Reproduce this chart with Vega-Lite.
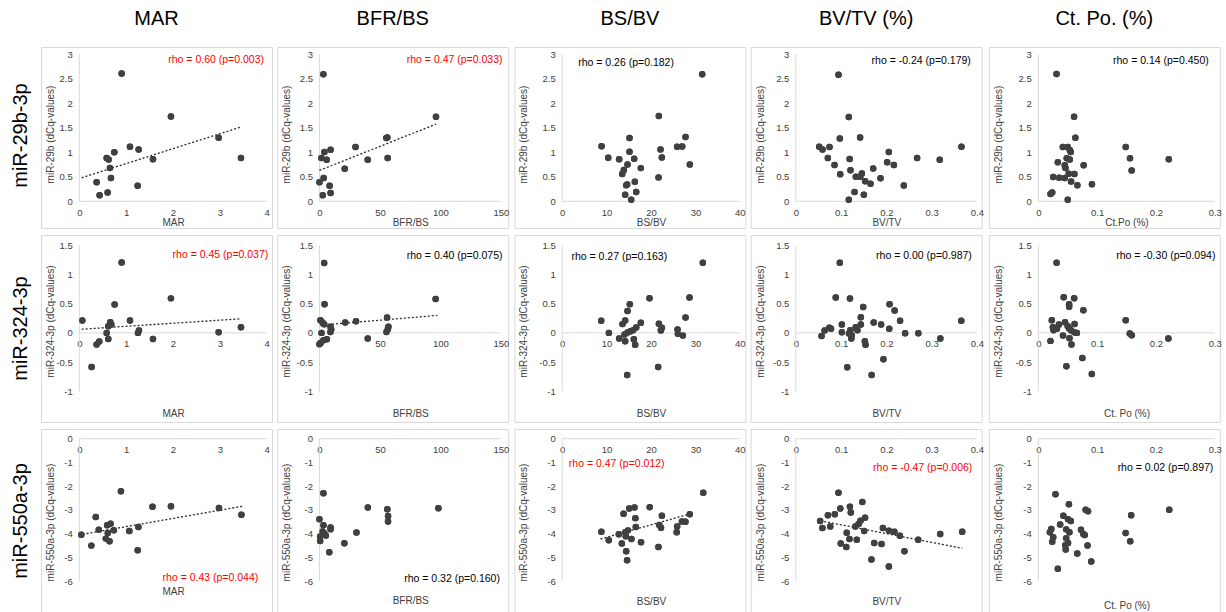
{
"$schema": "https://vega.github.io/schema/vega-lite/v6.json",
"background": "white",
"padding": {"left": 10, "top": 8, "right": 0, "bottom": 0},
"spacing": 5,
"config": {
  "font": "Liberation Sans",
  "view": {"stroke": "#d9d9d9", "strokeWidth": 1},
  "axis": {"domain": false, "ticks": false, "grid": false, "tickCount": 20, "labelFontSize": 9.5, "labelColor": "#404040", "titleFontSize": 10, "titleFontWeight": "normal", "titleColor": "#404040", "labelFlush": false, "labelOverlap": false, "titleAlign": "center", "titleBaseline": "middle"},
  "axisX": {"labelPadding": 6},
  "axisY": {"labelPadding": 7},
  "title": {"fontWeight": "normal", "color": "#000000", "fontSize": 20}
},
"datasets": {
  "p1": [{"x":0.904,"y":2.608},{"x":1.957,"y":1.73},{"x":2.975,"y":1.297},{"x":3.452,"y":0.885},{"x":1.082,"y":1.112},{"x":1.267,"y":1.057},{"x":0.747,"y":1.002},{"x":0.584,"y":0.885},{"x":0.626,"y":0.851},{"x":1.573,"y":0.858},{"x":0.655,"y":0.68},{"x":0.676,"y":0.474},{"x":0.37,"y":0.391},{"x":0.434,"y":0.124},{"x":0.605,"y":0.178},{"x":1.246,"y":0.316}],
  "p2": [{"x":3.25,"y":2.593},{"x":96.3,"y":1.724},{"x":55.3,"y":1.29},{"x":56.1,"y":1.303},{"x":29.8,"y":1.107},{"x":9.2,"y":1.052},{"x":4.1,"y":1.005},{"x":1.6,"y":0.883},{"x":6.0,"y":0.849},{"x":39.9,"y":0.849},{"x":56.4,"y":0.883},{"x":20.9,"y":0.665},{"x":3.5,"y":0.475},{"x":0,"y":0.387},{"x":8.4,"y":0.319},{"x":2.7,"y":0.122},{"x":9.2,"y":0.17}],
  "p3": [{"x":31.52,"y":2.594},{"x":21.76,"y":1.74},{"x":15.16,"y":1.293},{"x":27.77,"y":1.314},{"x":25.89,"y":1.111},{"x":27.02,"y":1.117},{"x":8.86,"y":1.124},{"x":15.16,"y":1.009},{"x":22.14,"y":1.056},{"x":10.36,"y":0.887},{"x":12.83,"y":0.86},{"x":16.21,"y":0.867},{"x":22.44,"y":0.894},{"x":14.71,"y":0.752},{"x":28.74,"y":0.752},{"x":17.71,"y":0.677},{"x":13.88,"y":0.637},{"x":13.51,"y":0.555},{"x":21.69,"y":0.488},{"x":14.63,"y":0.345},{"x":14.41,"y":0.325},{"x":16.36,"y":0.4},{"x":14.18,"y":0.135},{"x":16.66,"y":0.19},{"x":15.53,"y":0.034}],
  "p4": [{"x":0.0943,"y":2.583},{"x":0.117,"y":1.72},{"x":0.142,"y":1.301},{"x":0.0972,"y":1.281},{"x":0.0516,"y":1.113},{"x":0.0589,"y":1.059},{"x":0.0744,"y":1.106},{"x":0.366,"y":1.113},{"x":0.2055,"y":1.005},{"x":0.0707,"y":0.883},{"x":0.119,"y":0.863},{"x":0.268,"y":0.883},{"x":0.318,"y":0.85},{"x":0.2018,"y":0.796},{"x":0.2166,"y":0.742},{"x":0.0855,"y":0.742},{"x":0.1709,"y":0.668},{"x":0.1208,"y":0.634},{"x":0.098,"y":0.553},{"x":0.1459,"y":0.566},{"x":0.1326,"y":0.499},{"x":0.1422,"y":0.499},{"x":0.1871,"y":0.472},{"x":0.1532,"y":0.411},{"x":0.165,"y":0.357},{"x":0.2387,"y":0.324},{"x":0.1297,"y":0.189},{"x":0.1503,"y":0.135},{"x":0.1171,"y":0.034}],
  "p5": [{"x":0.031,"y":2.597},{"x":0.0608,"y":1.728},{"x":0.063,"y":1.298},{"x":0.0417,"y":1.107},{"x":0.0501,"y":1.107},{"x":0.0535,"y":1.047},{"x":0.0552,"y":1.007},{"x":0.1486,"y":1.107},{"x":0.1559,"y":0.879},{"x":0.2218,"y":0.859},{"x":0.0484,"y":0.879},{"x":0.0535,"y":0.852},{"x":0.0332,"y":0.799},{"x":0.045,"y":0.738},{"x":0.0462,"y":0.678},{"x":0.0771,"y":0.738},{"x":0.1587,"y":0.631},{"x":0.0253,"y":0.497},{"x":0.0355,"y":0.483},{"x":0.045,"y":0.477},{"x":0.0518,"y":0.564},{"x":0.0614,"y":0.557},{"x":0.0557,"y":0.403},{"x":0.0664,"y":0.329},{"x":0.0912,"y":0.349},{"x":0.0208,"y":0.148},{"x":0.0236,"y":0.181},{"x":0.0501,"y":0.034}],
  "p6": [{"x":0.904,"y":1.204},{"x":1.957,"y":0.591},{"x":0.754,"y":0.487},{"x":0.064,"y":0.212},{"x":1.082,"y":0.212},{"x":0.662,"y":0.183},{"x":0.683,"y":0.143},{"x":0.619,"y":0.115},{"x":3.452,"y":0.097},{"x":1.274,"y":0.04},{"x":1.253,"y":0.0},{"x":2.975,"y":0.011},{"x":0.584,"y":0.0},{"x":0.619,"y":-0.103},{"x":1.573,"y":-0.103},{"x":0.427,"y":-0.149},{"x":0.37,"y":-0.2},{"x":0.263,"y":-0.585}],
  "p7": [{"x":3.9,"y":1.195},{"x":96,"y":0.58},{"x":4.2,"y":0.489},{"x":0.8,"y":0.218},{"x":2.5,"y":0.178},{"x":3.9,"y":0.149},{"x":21.3,"y":0.178},{"x":30.2,"y":0.201},{"x":55.9,"y":0.264},{"x":9.1,"y":0.103},{"x":9.7,"y":0.063},{"x":9.1,"y":0.017},{"x":57,"y":0.103},{"x":56.5,"y":0.063},{"x":55.4,"y":0.017},{"x":1.7,"y":0},{"x":39.9,"y":-0.098},{"x":6.1,"y":-0.109},{"x":3.3,"y":-0.126},{"x":0,"y":-0.195},{"x":1.1,"y":-0.167}],
  "p8": [{"x":31.67,"y":1.2},{"x":19.66,"y":0.594},{"x":28.67,"y":0.606},{"x":15.23,"y":0.49},{"x":14.71,"y":0.375},{"x":27.77,"y":0.265},{"x":8.78,"y":0.208},{"x":14.18,"y":0.213},{"x":13.58,"y":0.15},{"x":17.71,"y":0.173},{"x":21.77,"y":0.156},{"x":22.44,"y":0.087},{"x":22.22,"y":0.04},{"x":16.66,"y":0.092},{"x":15.98,"y":0.046},{"x":15.38,"y":0.029},{"x":14.71,"y":0.006},{"x":14.03,"y":-0.029},{"x":10.51,"y":0.0},{"x":25.97,"y":0.058},{"x":26.04,"y":-0.017},{"x":27.17,"y":-0.046},{"x":12.83,"y":-0.098},{"x":14.18,"y":-0.144},{"x":16.13,"y":-0.11},{"x":16.43,"y":-0.202},{"x":21.61,"y":-0.583},{"x":14.63,"y":-0.721}],
  "p9": [{"x":0.0972,"y":1.202},{"x":0.0882,"y":0.607},{"x":0.1196,"y":0.59},{"x":0.2071,"y":0.491},{"x":0.1488,"y":0.445},{"x":0.2183,"y":0.382},{"x":0.1436,"y":0.266},{"x":0.2303,"y":0.208},{"x":0.3656,"y":0.208},{"x":0.172,"y":0.179},{"x":0.1884,"y":0.145},{"x":0.1436,"y":0.145},{"x":0.1017,"y":0.145},{"x":0.074,"y":0.087},{"x":0.0777,"y":0.069},{"x":0.1323,"y":0.098},{"x":0.1361,"y":0.046},{"x":0.2064,"y":0.069},{"x":0.0636,"y":0.04},{"x":0.1017,"y":0.012},{"x":0.1204,"y":0.046},{"x":0.1174,"y":-0.012},{"x":0.1234,"y":-0.04},{"x":0.1226,"y":-0.098},{"x":0.2415,"y":-0.006},{"x":0.2707,"y":-0.006},{"x":0.0568,"y":-0.052},{"x":0.1525,"y":-0.145},{"x":0.154,"y":-0.202},{"x":0.3193,"y":-0.098},{"x":0.1936,"y":-0.451},{"x":0.1136,"y":-0.59},{"x":0.1675,"y":-0.723}],
  "p10": [{"x":0.0311,"y":1.2},{"x":0.0432,"y":0.611},{"x":0.061,"y":0.594},{"x":0.0524,"y":0.491},{"x":0.0524,"y":0.446},{"x":0.0766,"y":0.389},{"x":0.023,"y":0.217},{"x":0.1486,"y":0.217},{"x":0.0455,"y":0.183},{"x":0.0616,"y":0.154},{"x":0.0351,"y":0.143},{"x":0.0248,"y":0.097},{"x":0.0501,"y":0.114},{"x":0.0524,"y":0.074},{"x":0.0317,"y":0.069},{"x":0.0259,"y":0.046},{"x":0.0559,"y":0.04},{"x":0.061,"y":0.011},{"x":0.0656,"y":0.0},{"x":0.1555,"y":-0.011},{"x":0.1589,"y":-0.04},{"x":0.042,"y":-0.046},{"x":0.053,"y":-0.091},{"x":0.2211,"y":-0.097},{"x":0.0207,"y":-0.137},{"x":0.0564,"y":-0.2},{"x":0.0749,"y":-0.429},{"x":0.0478,"y":-0.571},{"x":0.091,"y":-0.703}],
  "p11": [{"x":0.889,"y":-2.219},{"x":1.563,"y":-2.865},{"x":1.957,"y":-2.851},{"x":2.982,"y":-2.921},{"x":3.462,"y":-3.202},{"x":0.351,"y":-3.301},{"x":0.667,"y":-3.581},{"x":0.595,"y":-3.652},{"x":1.262,"y":-3.722},{"x":0.416,"y":-3.834},{"x":0.738,"y":-3.862},{"x":1.068,"y":-3.89},{"x":0.609,"y":-3.975},{"x":0.043,"y":-4.045},{"x":0.566,"y":-4.213},{"x":0.645,"y":-4.326},{"x":0.258,"y":-4.508},{"x":1.247,"y":-4.705}],
  "p12": [{"x":3.3,"y":-2.296},{"x":98.3,"y":-2.93},{"x":56.1,"y":-2.972},{"x":40,"y":-2.9},{"x":56.7,"y":-3.254},{"x":56.7,"y":-3.493},{"x":0,"y":-3.394},{"x":3.3,"y":-3.648},{"x":9.2,"y":-3.746},{"x":9.2,"y":-3.817},{"x":2.5,"y":-3.915},{"x":3.9,"y":-3.986},{"x":5.3,"y":-4.085},{"x":0.6,"y":-4.127},{"x":0.6,"y":-4.31},{"x":30.6,"y":-3.958},{"x":20.6,"y":-4.408},{"x":8.1,"y":-4.789}],
  "p13": [{"x":31.76,"y":-2.274},{"x":19.71,"y":-2.888},{"x":16.27,"y":-2.902},{"x":15.1,"y":-2.944},{"x":22.45,"y":-3.251},{"x":28.73,"y":-3.181},{"x":13.82,"y":-3.167},{"x":16.47,"y":-3.349},{"x":27.75,"y":-3.502},{"x":26.96,"y":-3.488},{"x":16.57,"y":-3.725},{"x":21.86,"y":-3.642},{"x":22.25,"y":-3.753},{"x":25.88,"y":-3.698},{"x":25.78,"y":-3.949},{"x":8.82,"y":-3.921},{"x":14.8,"y":-3.865},{"x":14.22,"y":-3.949},{"x":12.75,"y":-4.032},{"x":14.31,"y":-4.116},{"x":10.49,"y":-4.284},{"x":15.59,"y":-4.228},{"x":17.75,"y":-4.367},{"x":13.43,"y":-4.423},{"x":21.67,"y":-4.563},{"x":14.41,"y":-4.744},{"x":14.61,"y":-5.121}],
  "p14": [{"x":0.0942,"y":-2.274},{"x":0.1468,"y":-2.665},{"x":0.1195,"y":-2.874},{"x":0.0982,"y":-2.944},{"x":0.1215,"y":-3.112},{"x":0.0709,"y":-3.223},{"x":0.0861,"y":-3.181},{"x":0.1529,"y":-3.335},{"x":0.1428,"y":-3.46},{"x":0.1387,"y":-3.6},{"x":0.0537,"y":-3.474},{"x":0.076,"y":-3.698},{"x":0.0587,"y":-3.767},{"x":0.1316,"y":-3.698},{"x":0.1509,"y":-3.893},{"x":0.1924,"y":-3.767},{"x":0.2056,"y":-3.879},{"x":0.2177,"y":-3.921},{"x":0.2299,"y":-4.088},{"x":0.319,"y":-4.018},{"x":0.3676,"y":-3.921},{"x":0.1124,"y":-3.963},{"x":0.2704,"y":-4.256},{"x":0.1185,"y":-4.228},{"x":0.1347,"y":-4.256},{"x":0.0992,"y":-4.423},{"x":0.1114,"y":-4.563},{"x":0.1732,"y":-4.395},{"x":0.1894,"y":-4.437},{"x":0.24,"y":-4.744},{"x":0.1671,"y":-5.093},{"x":0.2056,"y":-5.386}],
  "p15": [{"x":0.0292,"y":-2.344},{"x":0.0521,"y":-2.763},{"x":0.0805,"y":-3.0},{"x":0.0845,"y":-3.056},{"x":0.2226,"y":-3.0},{"x":0.1579,"y":-3.223},{"x":0.0426,"y":-3.251},{"x":0.0505,"y":-3.391},{"x":0.0553,"y":-3.474},{"x":0.0371,"y":-3.614},{"x":0.0221,"y":-3.809},{"x":0.0474,"y":-3.823},{"x":0.0726,"y":-3.837},{"x":0.0766,"y":-4.018},{"x":0.0529,"y":-3.949},{"x":0.0789,"y":-4.06},{"x":0.0197,"y":-3.949},{"x":0.0253,"y":-4.158},{"x":0.0237,"y":-4.34},{"x":0.1484,"y":-3.977},{"x":0.1563,"y":-4.326},{"x":0.0474,"y":-4.2},{"x":0.0505,"y":-4.395},{"x":0.0458,"y":-4.493},{"x":0.0466,"y":-4.674},{"x":0.0837,"y":-4.507},{"x":0.0663,"y":-4.842},{"x":0.09,"y":-5.177},{"x":0.0332,"y":-5.484}],
  "t1": [{"x":0.05,"y":0.48},{"x":3.43,"y":1.51}],
  "t2": [{"x":0,"y":0.63},{"x":96.3,"y":1.575}],
  "t6": [{"x":0.05,"y":0.063},{"x":3.45,"y":0.241}],
  "t7": [{"x":0.55,"y":0.132},{"x":97.4,"y":0.299}],
  "t11": [{"x":0.07,"y":-4.03},{"x":3.476,"y":-2.85}],
  "t13": [{"x":8.63,"y":-4.23},{"x":29.4,"y":-3.14}],
  "t14": [{"x":0.0537,"y":-3.46},{"x":0.3676,"y":-4.62}]
},
"vconcat": [
 {"title": {"text": "miR-29b-3p", "orient": "left", "anchor": "middle", "offset": 10, "dx": -17}, "spacing": 3.2, "hconcat": [
  {"width": 231, "height": 181, "title": {"text": "MAR", "offset": 18}, "layer": [
    {"data": {"name": "p1"}, "mark": {"type": "circle", "size": 42, "color": "#404040", "opacity": 1}, "encoding": {
      "x": {"field": "x", "type": "quantitative", "scale": {"domain": [-0.8178, 4.1147], "nice": false, "zero": false}, "axis": {"values": [0,1,2,3,4], "tickCount": 20, "labelOverlap": false, "title": "MAR", "offset": -26.7, "titleX": 132, "titleY": 20.7, "labelExpr": "'' + datum.value"}},
      "y": {"field": "y", "type": "quantitative", "scale": {"domain": [-0.545, 3.149], "nice": false, "zero": false}, "axis": {"values": [0,0.5,1,1.5,2,2.5,3], "tickCount": 20, "labelOverlap": false, "title": "miR-29b (dCq-values)", "offset": -38.3, "titleX": -28.8, "titleY": 87, "labelExpr": "'' + datum.value"}}}},
    {"data": {"values": [{}]}, "mark": {"type": "rule", "color": "#d9d9d9"}, "encoding": {"x": {"datum": 0, "type": "quantitative"}, "y": {"datum": 0, "type": "quantitative"}, "y2": {"datum": 3}}},
    {"data": {"values": [{}]}, "mark": {"type": "rule", "color": "#d9d9d9"}, "encoding": {"x": {"datum": 0, "type": "quantitative"}, "x2": {"datum": 4}, "y": {"datum": 0, "type": "quantitative"}}},
    {"data": {"name": "t1"}, "mark": {"type": "line", "color": "#262626", "strokeDash": [2, 2], "strokeWidth": 1.3}, "encoding": {"x": {"field": "x", "type": "quantitative"}, "y": {"field": "y", "type": "quantitative"}}},
    {"data": {"name": "p1"}, "mark": {"type": "circle", "size": 42, "color": "#404040", "opacity": 1}, "encoding": {"x": {"field": "x", "type": "quantitative"}, "y": {"field": "y", "type": "quantitative"}}},
    {"data": {"values": [{"t": "rho = 0.60 (p=0.003)"}]}, "mark": {"type": "text", "align": "right", "baseline": "middle", "fontSize": 10.5, "color": "#ff0000"}, "encoding": {"x": {"datum": 3.944, "type": "quantitative"}, "y": {"datum": 2.89, "type": "quantitative"}, "text": {"field": "t"}}}
  ]},
  {"width": 231, "height": 181, "title": {"text": "BFR/BS", "offset": 18}, "layer": [
    {"data": {"name": "p2"}, "mark": {"type": "circle", "size": 42, "color": "#404040", "opacity": 1}, "encoding": {
      "x": {"field": "x", "type": "quantitative", "scale": {"domain": [-34.92, 156.0], "nice": false, "zero": false}, "axis": {"values": [0,50,100,150], "tickCount": 20, "labelOverlap": false, "title": "BFR/BS", "offset": -26.7, "titleX": 133, "titleY": 20.7, "labelExpr": "'' + datum.value"}},
      "y": {"field": "y", "type": "quantitative", "scale": {"domain": [-0.545, 3.149], "nice": false, "zero": false}, "axis": {"values": [0,0.5,1,1.5,2,2.5,3], "tickCount": 20, "labelOverlap": false, "title": "miR-29b (dCq-values)", "offset": -42.25, "titleX": -32.75, "titleY": 87, "labelExpr": "'' + datum.value"}}}},
    {"data": {"values": [{}]}, "mark": {"type": "rule", "color": "#d9d9d9"}, "encoding": {"x": {"datum": 0, "type": "quantitative"}, "y": {"datum": 0, "type": "quantitative"}, "y2": {"datum": 3}}},
    {"data": {"values": [{}]}, "mark": {"type": "rule", "color": "#d9d9d9"}, "encoding": {"x": {"datum": 0, "type": "quantitative"}, "x2": {"datum": 150}, "y": {"datum": 0, "type": "quantitative"}}},
    {"data": {"name": "t2"}, "mark": {"type": "line", "color": "#262626", "strokeDash": [2, 2], "strokeWidth": 1.3}, "encoding": {"x": {"field": "x", "type": "quantitative"}, "y": {"field": "y", "type": "quantitative"}}},
    {"data": {"name": "p2"}, "mark": {"type": "circle", "size": 42, "color": "#404040", "opacity": 1}, "encoding": {"x": {"field": "x", "type": "quantitative"}, "y": {"field": "y", "type": "quantitative"}}},
    {"data": {"values": [{"t": "rho = 0.47 (p=0.033)"}]}, "mark": {"type": "text", "align": "right", "baseline": "middle", "fontSize": 10.5, "color": "#ff0000"}, "encoding": {"x": {"datum": 151.3, "type": "quantitative"}, "y": {"datum": 2.89, "type": "quantitative"}, "text": {"field": "t"}}}
  ]},
  {"width": 231, "height": 181, "title": {"text": "BS/BV", "offset": 18}, "layer": [
    {"data": {"name": "p3"}, "mark": {"type": "circle", "size": 42, "color": "#404040", "opacity": 1}, "encoding": {
      "x": {"field": "x", "type": "quantitative", "scale": {"domain": [-10.76, 41.25], "nice": false, "zero": false}, "axis": {"values": [0,10,20,30,40], "tickCount": 20, "labelOverlap": false, "title": "BS/BV", "offset": -26.7, "titleX": 136.6, "titleY": 20.7, "labelExpr": "'' + datum.value"}},
      "y": {"field": "y", "type": "quantitative", "scale": {"domain": [-0.545, 3.149], "nice": false, "zero": false}, "axis": {"values": [0,0.5,1,1.5,2,2.5,3], "tickCount": 20, "labelOverlap": false, "title": "miR-29b (dCq-values)", "offset": -47.8, "titleX": -38.3, "titleY": 87, "labelExpr": "'' + datum.value"}}}},
    {"data": {"values": [{}]}, "mark": {"type": "rule", "color": "#d9d9d9"}, "encoding": {"x": {"datum": 0, "type": "quantitative"}, "y": {"datum": 0, "type": "quantitative"}, "y2": {"datum": 3}}},
    {"data": {"values": [{}]}, "mark": {"type": "rule", "color": "#d9d9d9"}, "encoding": {"x": {"datum": 0, "type": "quantitative"}, "x2": {"datum": 40}, "y": {"datum": 0, "type": "quantitative"}}},
    {"data": {"name": "p3"}, "mark": {"type": "circle", "size": 42, "color": "#404040", "opacity": 1}, "encoding": {"x": {"field": "x", "type": "quantitative"}, "y": {"field": "y", "type": "quantitative"}}},
    {"data": {"values": [{"t": "rho = 0.26 (p=0.182)"}]}, "mark": {"type": "text", "align": "left", "baseline": "middle", "fontSize": 10.5, "color": "#000000"}, "encoding": {"x": {"datum": 3.6, "type": "quantitative"}, "y": {"datum": 2.822, "type": "quantitative"}, "text": {"field": "t"}}}
  ]},
  {"width": 231, "height": 181, "title": {"text": "BV/TV (%)", "offset": 18}, "layer": [
    {"data": {"name": "p4"}, "mark": {"type": "circle", "size": 42, "color": "#404040", "opacity": 1}, "encoding": {
      "x": {"field": "x", "type": "quantitative", "scale": {"domain": [-0.1, 0.4105], "nice": false, "zero": false}, "axis": {"values": [0,0.1,0.2,0.3,0.4], "tickCount": 20, "labelOverlap": false, "title": "BV/TV", "offset": -26.7, "titleX": 135.75, "titleY": 20.7, "labelExpr": "'' + datum.value"}},
      "y": {"field": "y", "type": "quantitative", "scale": {"domain": [-0.545, 3.149], "nice": false, "zero": false}, "axis": {"values": [0,0.5,1,1.5,2,2.5,3], "tickCount": 20, "labelOverlap": false, "title": "miR-29b (dCq-values)", "offset": -45.25, "titleX": -35.75, "titleY": 87, "labelExpr": "'' + datum.value"}}}},
    {"data": {"values": [{}]}, "mark": {"type": "rule", "color": "#d9d9d9"}, "encoding": {"x": {"datum": 0, "type": "quantitative"}, "y": {"datum": 0, "type": "quantitative"}, "y2": {"datum": 3}}},
    {"data": {"values": [{}]}, "mark": {"type": "rule", "color": "#d9d9d9"}, "encoding": {"x": {"datum": 0, "type": "quantitative"}, "x2": {"datum": 0.4}, "y": {"datum": 0, "type": "quantitative"}}},
    {"data": {"name": "p4"}, "mark": {"type": "circle", "size": 42, "color": "#404040", "opacity": 1}, "encoding": {"x": {"field": "x", "type": "quantitative"}, "y": {"field": "y", "type": "quantitative"}}},
    {"data": {"values": [{"t": "rho = -0.24 (p=0.179)"}]}, "mark": {"type": "text", "align": "right", "baseline": "middle", "fontSize": 10.5, "color": "#000000"}, "encoding": {"x": {"datum": 0.3867, "type": "quantitative"}, "y": {"datum": 2.863, "type": "quantitative"}, "text": {"field": "t"}}}
  ]},
  {"width": 231, "height": 181, "title": {"text": "Ct. Po. (%)", "offset": 18}, "layer": [
    {"data": {"name": "p5"}, "mark": {"type": "circle", "size": 42, "color": "#404040", "opacity": 1}, "encoding": {
      "x": {"field": "x", "type": "quantitative", "scale": {"domain": [-0.08414, 0.30852], "nice": false, "zero": false}, "axis": {"values": [0,0.1,0.2,0.3], "tickCount": 20, "labelOverlap": false, "title": "Ct.Po (%)", "offset": -26.7, "titleX": 137.7, "titleY": 20.7, "labelExpr": "'' + datum.value"}},
      "y": {"field": "y", "type": "quantitative", "scale": {"domain": [-0.545, 3.149], "nice": false, "zero": false}, "axis": {"values": [0,0.5,1,1.5,2,2.5,3], "tickCount": 20, "labelOverlap": false, "title": "miR-29b (dCq-values)", "offset": -49.5, "titleX": -40, "titleY": 87, "labelExpr": "'' + datum.value"}}}},
    {"data": {"values": [{}]}, "mark": {"type": "rule", "color": "#d9d9d9"}, "encoding": {"x": {"datum": 0, "type": "quantitative"}, "y": {"datum": 0, "type": "quantitative"}, "y2": {"datum": 3}}},
    {"data": {"values": [{}]}, "mark": {"type": "rule", "color": "#d9d9d9"}, "encoding": {"x": {"datum": 0, "type": "quantitative"}, "x2": {"datum": 0.3}, "y": {"datum": 0, "type": "quantitative"}}},
    {"data": {"name": "p5"}, "mark": {"type": "circle", "size": 42, "color": "#404040", "opacity": 1}, "encoding": {"x": {"field": "x", "type": "quantitative"}, "y": {"field": "y", "type": "quantitative"}}},
    {"data": {"values": [{"t": "rho = 0.14 (p=0.450)"}]}, "mark": {"type": "text", "align": "right", "baseline": "middle", "fontSize": 10.5, "color": "#000000"}, "encoding": {"x": {"datum": 0.2898, "type": "quantitative"}, "y": {"datum": 2.863, "type": "quantitative"}, "text": {"field": "t"}}}
  ]}
 ]},
 {"title": {"text": "miR-324-3p", "orient": "left", "anchor": "middle", "offset": 10}, "spacing": 3.2, "hconcat": [
  {"width": 231, "height": 187, "layer": [
    {"data": {"name": "p6"}, "mark": {"type": "circle", "size": 42, "color": "#404040", "opacity": 1}, "encoding": {
      "x": {"field": "x", "type": "quantitative", "scale": {"domain": [-0.8178, 4.1147], "nice": false, "zero": false}, "axis": {"values": [0,1,2,3,4], "tickCount": 20, "labelOverlap": false, "title": "MAR", "offset": -89.1, "titleX": 132, "titleY": 80.6, "labelExpr": "'' + datum.value"}},
      "y": {"field": "y", "type": "quantitative", "scale": {"domain": [-1.526, 1.676], "nice": false, "zero": false}, "axis": {"values": [-1,-0.5,0,0.5,1,1.5], "tickCount": 20, "labelOverlap": false, "title": "miR-324-3p (dCq-values)", "offset": -38.3, "titleX": -28.8, "titleY": 86, "labelExpr": "'' + datum.value"}}}},
    {"data": {"values": [{}]}, "mark": {"type": "rule", "color": "#d9d9d9"}, "encoding": {"x": {"datum": 0, "type": "quantitative"}, "y": {"datum": -1, "type": "quantitative"}, "y2": {"datum": 1.5}}},
    {"data": {"values": [{}]}, "mark": {"type": "rule", "color": "#d9d9d9"}, "encoding": {"x": {"datum": 0, "type": "quantitative"}, "x2": {"datum": 4}, "y": {"datum": 0, "type": "quantitative"}}},
    {"data": {"name": "t6"}, "mark": {"type": "line", "color": "#262626", "strokeDash": [2, 2], "strokeWidth": 1.3}, "encoding": {"x": {"field": "x", "type": "quantitative"}, "y": {"field": "y", "type": "quantitative"}}},
    {"data": {"name": "p6"}, "mark": {"type": "circle", "size": 42, "color": "#404040", "opacity": 1}, "encoding": {"x": {"field": "x", "type": "quantitative"}, "y": {"field": "y", "type": "quantitative"}}},
    {"data": {"values": [{"t": "rho = 0.45 (p=0.037)"}]}, "mark": {"type": "text", "align": "right", "baseline": "middle", "fontSize": 10.5, "color": "#ff0000"}, "encoding": {"x": {"datum": 4.036, "type": "quantitative"}, "y": {"datum": 1.339, "type": "quantitative"}, "text": {"field": "t"}}}
  ]},
  {"width": 231, "height": 187, "layer": [
    {"data": {"name": "p7"}, "mark": {"type": "circle", "size": 42, "color": "#404040", "opacity": 1}, "encoding": {
      "x": {"field": "x", "type": "quantitative", "scale": {"domain": [-34.92, 156.0], "nice": false, "zero": false}, "axis": {"values": [0,50,100,150], "tickCount": 20, "labelOverlap": false, "title": "BFR/BS", "offset": -89.1, "titleX": 133, "titleY": 80.6, "labelExpr": "'' + datum.value"}},
      "y": {"field": "y", "type": "quantitative", "scale": {"domain": [-1.526, 1.676], "nice": false, "zero": false}, "axis": {"values": [-1,-0.5,0,0.5,1,1.5], "tickCount": 20, "labelOverlap": false, "title": "miR-324-3p (dCq-values)", "offset": -42.25, "titleX": -32.75, "titleY": 86, "labelExpr": "'' + datum.value"}}}},
    {"data": {"values": [{}]}, "mark": {"type": "rule", "color": "#d9d9d9"}, "encoding": {"x": {"datum": 0, "type": "quantitative"}, "y": {"datum": -1, "type": "quantitative"}, "y2": {"datum": 1.5}}},
    {"data": {"values": [{}]}, "mark": {"type": "rule", "color": "#d9d9d9"}, "encoding": {"x": {"datum": 0, "type": "quantitative"}, "x2": {"datum": 150}, "y": {"datum": 0, "type": "quantitative"}}},
    {"data": {"name": "t7"}, "mark": {"type": "line", "color": "#262626", "strokeDash": [2, 2], "strokeWidth": 1.3}, "encoding": {"x": {"field": "x", "type": "quantitative"}, "y": {"field": "y", "type": "quantitative"}}},
    {"data": {"name": "p7"}, "mark": {"type": "circle", "size": 42, "color": "#404040", "opacity": 1}, "encoding": {"x": {"field": "x", "type": "quantitative"}, "y": {"field": "y", "type": "quantitative"}}},
    {"data": {"values": [{"t": "rho = 0.40 (p=0.075)"}]}, "mark": {"type": "text", "align": "right", "baseline": "middle", "fontSize": 10.5, "color": "#000000"}, "encoding": {"x": {"datum": 151.3, "type": "quantitative"}, "y": {"datum": 1.317, "type": "quantitative"}, "text": {"field": "t"}}}
  ]},
  {"width": 231, "height": 187, "layer": [
    {"data": {"name": "p8"}, "mark": {"type": "circle", "size": 42, "color": "#404040", "opacity": 1}, "encoding": {
      "x": {"field": "x", "type": "quantitative", "scale": {"domain": [-10.76, 41.25], "nice": false, "zero": false}, "axis": {"values": [0,10,20,30,40], "tickCount": 20, "labelOverlap": false, "title": "BS/BV", "offset": -89.1, "titleX": 136.6, "titleY": 80.6, "labelExpr": "'' + datum.value"}},
      "y": {"field": "y", "type": "quantitative", "scale": {"domain": [-1.526, 1.676], "nice": false, "zero": false}, "axis": {"values": [-1,-0.5,0,0.5,1,1.5], "tickCount": 20, "labelOverlap": false, "title": "miR-324-3p (dCq-values)", "offset": -47.8, "titleX": -38.3, "titleY": 86, "labelExpr": "'' + datum.value"}}}},
    {"data": {"values": [{}]}, "mark": {"type": "rule", "color": "#d9d9d9"}, "encoding": {"x": {"datum": 0, "type": "quantitative"}, "y": {"datum": -1, "type": "quantitative"}, "y2": {"datum": 1.5}}},
    {"data": {"values": [{}]}, "mark": {"type": "rule", "color": "#d9d9d9"}, "encoding": {"x": {"datum": 0, "type": "quantitative"}, "x2": {"datum": 40}, "y": {"datum": 0, "type": "quantitative"}}},
    {"data": {"name": "p8"}, "mark": {"type": "circle", "size": 42, "color": "#404040", "opacity": 1}, "encoding": {"x": {"field": "x", "type": "quantitative"}, "y": {"field": "y", "type": "quantitative"}}},
    {"data": {"values": [{"t": "rho = 0.27 (p=0.163)"}]}, "mark": {"type": "text", "align": "left", "baseline": "middle", "fontSize": 10.5, "color": "#000000"}, "encoding": {"x": {"datum": 2.09, "type": "quantitative"}, "y": {"datum": 1.30, "type": "quantitative"}, "text": {"field": "t"}}}
  ]},
  {"width": 231, "height": 187, "layer": [
    {"data": {"name": "p9"}, "mark": {"type": "circle", "size": 42, "color": "#404040", "opacity": 1}, "encoding": {
      "x": {"field": "x", "type": "quantitative", "scale": {"domain": [-0.1, 0.4105], "nice": false, "zero": false}, "axis": {"values": [0,0.1,0.2,0.3,0.4], "tickCount": 20, "labelOverlap": false, "title": "BV/TV", "offset": -89.1, "titleX": 135.75, "titleY": 80.6, "labelExpr": "'' + datum.value"}},
      "y": {"field": "y", "type": "quantitative", "scale": {"domain": [-1.526, 1.676], "nice": false, "zero": false}, "axis": {"values": [-1,-0.5,0,0.5,1,1.5], "tickCount": 20, "labelOverlap": false, "title": "miR-324-3p (dCq-values)", "offset": -45.25, "titleX": -35.75, "titleY": 86, "labelExpr": "'' + datum.value"}}}},
    {"data": {"values": [{}]}, "mark": {"type": "rule", "color": "#d9d9d9"}, "encoding": {"x": {"datum": 0, "type": "quantitative"}, "y": {"datum": -1, "type": "quantitative"}, "y2": {"datum": 1.5}}},
    {"data": {"values": [{}]}, "mark": {"type": "rule", "color": "#d9d9d9"}, "encoding": {"x": {"datum": 0, "type": "quantitative"}, "x2": {"datum": 0.4}, "y": {"datum": 0, "type": "quantitative"}}},
    {"data": {"name": "p9"}, "mark": {"type": "circle", "size": 42, "color": "#404040", "opacity": 1}, "encoding": {"x": {"field": "x", "type": "quantitative"}, "y": {"field": "y", "type": "quantitative"}}},
    {"data": {"values": [{"t": "rho = 0.00 (p=0.987)"}]}, "mark": {"type": "text", "align": "right", "baseline": "middle", "fontSize": 10.5, "color": "#000000"}, "encoding": {"x": {"datum": 0.389, "type": "quantitative"}, "y": {"datum": 1.317, "type": "quantitative"}, "text": {"field": "t"}}}
  ]},
  {"width": 231, "height": 187, "layer": [
    {"data": {"name": "p10"}, "mark": {"type": "circle", "size": 42, "color": "#404040", "opacity": 1}, "encoding": {
      "x": {"field": "x", "type": "quantitative", "scale": {"domain": [-0.08414, 0.30852], "nice": false, "zero": false}, "axis": {"values": [0,0.1,0.2,0.3], "tickCount": 20, "labelOverlap": false, "title": "Ct. Po (%)", "offset": -89.1, "titleX": 137.7, "titleY": 80.6, "labelExpr": "'' + datum.value"}},
      "y": {"field": "y", "type": "quantitative", "scale": {"domain": [-1.526, 1.676], "nice": false, "zero": false}, "axis": {"values": [-1,-0.5,0,0.5,1,1.5], "tickCount": 20, "labelOverlap": false, "title": "miR-324-3p (dCq-values)", "offset": -49.5, "titleX": -40, "titleY": 86, "labelExpr": "'' + datum.value"}}}},
    {"data": {"values": [{}]}, "mark": {"type": "rule", "color": "#d9d9d9"}, "encoding": {"x": {"datum": 0, "type": "quantitative"}, "y": {"datum": -1, "type": "quantitative"}, "y2": {"datum": 1.5}}},
    {"data": {"values": [{}]}, "mark": {"type": "rule", "color": "#d9d9d9"}, "encoding": {"x": {"datum": 0, "type": "quantitative"}, "x2": {"datum": 0.3}, "y": {"datum": 0, "type": "quantitative"}}},
    {"data": {"name": "p10"}, "mark": {"type": "circle", "size": 42, "color": "#404040", "opacity": 1}, "encoding": {"x": {"field": "x", "type": "quantitative"}, "y": {"field": "y", "type": "quantitative"}}},
    {"data": {"values": [{"t": "rho = -0.30 (p=0.094)"}]}, "mark": {"type": "text", "align": "right", "baseline": "middle", "fontSize": 10.5, "color": "#000000"}, "encoding": {"x": {"datum": 0.301, "type": "quantitative"}, "y": {"datum": 1.317, "type": "quantitative"}, "text": {"field": "t"}}}
  ]}
 ]},
 {"title": {"text": "miR-550a-3p", "orient": "left", "anchor": "middle", "offset": 10}, "spacing": 3.2, "hconcat": [
  {"width": 231, "height": 184, "layer": [
    {"data": {"name": "p11"}, "mark": {"type": "circle", "size": 42, "color": "#404040", "opacity": 1}, "encoding": {
      "x": {"field": "x", "type": "quantitative", "scale": {"domain": [-0.8178, 4.1147], "nice": false, "zero": false}, "axis": {"values": [0,1,2,3,4], "tickCount": 20, "labelOverlap": false, "title": "MAR", "offset": -174.3, "titleX": 132, "titleY": 152.6, "labelExpr": "'' + datum.value"}},
      "y": {"field": "y", "type": "quantitative", "scale": {"domain": [-7.349, 0.409], "nice": false, "zero": false}, "axis": {"values": [-6,-5,-4,-3,-2,-1,0], "tickCount": 20, "labelOverlap": false, "title": "miR-550a-3p (dCq-values)", "offset": -38.3, "titleX": -28.8, "titleY": 93, "labelExpr": "'' + datum.value"}}}},
    {"data": {"values": [{}]}, "mark": {"type": "rule", "color": "#d9d9d9"}, "encoding": {"x": {"datum": 0, "type": "quantitative"}, "y": {"datum": -6, "type": "quantitative"}, "y2": {"datum": 0}}},
    {"data": {"values": [{}]}, "mark": {"type": "rule", "color": "#d9d9d9"}, "encoding": {"x": {"datum": 0, "type": "quantitative"}, "x2": {"datum": 4}, "y": {"datum": 0, "type": "quantitative"}}},
    {"data": {"name": "t11"}, "mark": {"type": "line", "color": "#262626", "strokeDash": [2, 2], "strokeWidth": 1.3}, "encoding": {"x": {"field": "x", "type": "quantitative"}, "y": {"field": "y", "type": "quantitative"}}},
    {"data": {"name": "p11"}, "mark": {"type": "circle", "size": 42, "color": "#404040", "opacity": 1}, "encoding": {"x": {"field": "x", "type": "quantitative"}, "y": {"field": "y", "type": "quantitative"}}},
    {"data": {"values": [{"t": "rho = 0.43 (p=0.044)"}]}, "mark": {"type": "text", "align": "right", "baseline": "middle", "fontSize": 10.5, "color": "#ff0000"}, "encoding": {"x": {"datum": 3.822, "type": "quantitative"}, "y": {"datum": -5.86, "type": "quantitative"}, "text": {"field": "t"}}}
  ]},
  {"width": 231, "height": 184, "layer": [
    {"data": {"name": "p12"}, "mark": {"type": "circle", "size": 42, "color": "#404040", "opacity": 1}, "encoding": {
      "x": {"field": "x", "type": "quantitative", "scale": {"domain": [-34.92, 156.0], "nice": false, "zero": false}, "axis": {"values": [0,50,100,150], "tickCount": 20, "labelOverlap": false, "title": "BFR/BS", "offset": -174.3, "titleX": 133, "titleY": 161.6, "labelExpr": "'' + datum.value"}},
      "y": {"field": "y", "type": "quantitative", "scale": {"domain": [-7.349, 0.409], "nice": false, "zero": false}, "axis": {"values": [-6,-5,-4,-3,-2,-1,0], "tickCount": 20, "labelOverlap": false, "title": "miR-550a-3p (dCq-values)", "offset": -42.25, "titleX": -32.75, "titleY": 93, "labelExpr": "'' + datum.value"}}}},
    {"data": {"values": [{}]}, "mark": {"type": "rule", "color": "#d9d9d9"}, "encoding": {"x": {"datum": 0, "type": "quantitative"}, "y": {"datum": -6, "type": "quantitative"}, "y2": {"datum": 0}}},
    {"data": {"values": [{}]}, "mark": {"type": "rule", "color": "#d9d9d9"}, "encoding": {"x": {"datum": 0, "type": "quantitative"}, "x2": {"datum": 150}, "y": {"datum": 0, "type": "quantitative"}}},
    {"data": {"name": "p12"}, "mark": {"type": "circle", "size": 42, "color": "#404040", "opacity": 1}, "encoding": {"x": {"field": "x", "type": "quantitative"}, "y": {"field": "y", "type": "quantitative"}}},
    {"data": {"values": [{"t": "rho = 0.32 (p=0.160)"}]}, "mark": {"type": "text", "align": "right", "baseline": "middle", "fontSize": 10.5, "color": "#000000"}, "encoding": {"x": {"datum": 149.2, "type": "quantitative"}, "y": {"datum": -5.90, "type": "quantitative"}, "text": {"field": "t"}}}
  ]},
  {"width": 231, "height": 184, "layer": [
    {"data": {"name": "p13"}, "mark": {"type": "circle", "size": 42, "color": "#404040", "opacity": 1}, "encoding": {
      "x": {"field": "x", "type": "quantitative", "scale": {"domain": [-10.76, 41.25], "nice": false, "zero": false}, "axis": {"values": [0,10,20,30,40], "tickCount": 20, "labelOverlap": false, "title": "BS/BV", "offset": -174.3, "titleX": 136.6, "titleY": 162.3, "labelExpr": "'' + datum.value"}},
      "y": {"field": "y", "type": "quantitative", "scale": {"domain": [-7.349, 0.409], "nice": false, "zero": false}, "axis": {"values": [-6,-5,-4,-3,-2,-1,0], "tickCount": 20, "labelOverlap": false, "title": "miR-550a-3p (dCq-values)", "offset": -47.8, "titleX": -38.3, "titleY": 93, "labelExpr": "'' + datum.value"}}}},
    {"data": {"values": [{}]}, "mark": {"type": "rule", "color": "#d9d9d9"}, "encoding": {"x": {"datum": 0, "type": "quantitative"}, "y": {"datum": -6, "type": "quantitative"}, "y2": {"datum": 0}}},
    {"data": {"values": [{}]}, "mark": {"type": "rule", "color": "#d9d9d9"}, "encoding": {"x": {"datum": 0, "type": "quantitative"}, "x2": {"datum": 40}, "y": {"datum": 0, "type": "quantitative"}}},
    {"data": {"name": "t13"}, "mark": {"type": "line", "color": "#262626", "strokeDash": [2, 2], "strokeWidth": 1.3}, "encoding": {"x": {"field": "x", "type": "quantitative"}, "y": {"field": "y", "type": "quantitative"}}},
    {"data": {"name": "p13"}, "mark": {"type": "circle", "size": 42, "color": "#404040", "opacity": 1}, "encoding": {"x": {"field": "x", "type": "quantitative"}, "y": {"field": "y", "type": "quantitative"}}},
    {"data": {"values": [{"t": "rho = 0.47 (p=0.012)"}]}, "mark": {"type": "text", "align": "left", "baseline": "middle", "fontSize": 10.5, "color": "#ff0000"}, "encoding": {"x": {"datum": 1.5, "type": "quantitative"}, "y": {"datum": -1.06, "type": "quantitative"}, "text": {"field": "t"}}}
  ]},
  {"width": 231, "height": 184, "layer": [
    {"data": {"name": "p14"}, "mark": {"type": "circle", "size": 42, "color": "#404040", "opacity": 1}, "encoding": {
      "x": {"field": "x", "type": "quantitative", "scale": {"domain": [-0.1, 0.4105], "nice": false, "zero": false}, "axis": {"values": [0,0.1,0.2,0.3,0.4], "tickCount": 20, "labelOverlap": false, "title": "BV/TV", "offset": -174.3, "titleX": 135.75, "titleY": 162.3, "labelExpr": "'' + datum.value"}},
      "y": {"field": "y", "type": "quantitative", "scale": {"domain": [-7.349, 0.409], "nice": false, "zero": false}, "axis": {"values": [-6,-5,-4,-3,-2,-1,0], "tickCount": 20, "labelOverlap": false, "title": "miR-550a-3p (dCq-values)", "offset": -45.25, "titleX": -35.75, "titleY": 93, "labelExpr": "'' + datum.value"}}}},
    {"data": {"values": [{}]}, "mark": {"type": "rule", "color": "#d9d9d9"}, "encoding": {"x": {"datum": 0, "type": "quantitative"}, "y": {"datum": -6, "type": "quantitative"}, "y2": {"datum": 0}}},
    {"data": {"values": [{}]}, "mark": {"type": "rule", "color": "#d9d9d9"}, "encoding": {"x": {"datum": 0, "type": "quantitative"}, "x2": {"datum": 0.4}, "y": {"datum": 0, "type": "quantitative"}}},
    {"data": {"name": "t14"}, "mark": {"type": "line", "color": "#262626", "strokeDash": [2, 2], "strokeWidth": 1.3}, "encoding": {"x": {"field": "x", "type": "quantitative"}, "y": {"field": "y", "type": "quantitative"}}},
    {"data": {"name": "p14"}, "mark": {"type": "circle", "size": 42, "color": "#404040", "opacity": 1}, "encoding": {"x": {"field": "x", "type": "quantitative"}, "y": {"field": "y", "type": "quantitative"}}},
    {"data": {"values": [{"t": "rho = -0.47 (p=0.006)"}]}, "mark": {"type": "text", "align": "right", "baseline": "middle", "fontSize": 10.5, "color": "#ff0000"}, "encoding": {"x": {"datum": 0.39, "type": "quantitative"}, "y": {"datum": -1.228, "type": "quantitative"}, "text": {"field": "t"}}}
  ]},
  {"width": 231, "height": 184, "layer": [
    {"data": {"name": "p15"}, "mark": {"type": "circle", "size": 42, "color": "#404040", "opacity": 1}, "encoding": {
      "x": {"field": "x", "type": "quantitative", "scale": {"domain": [-0.08414, 0.30852], "nice": false, "zero": false}, "axis": {"values": [0,0.1,0.2,0.3], "tickCount": 20, "labelOverlap": false, "title": "Ct. Po (%)", "offset": -174.3, "titleX": 137.7, "titleY": 166.6, "labelExpr": "'' + datum.value"}},
      "y": {"field": "y", "type": "quantitative", "scale": {"domain": [-7.349, 0.409], "nice": false, "zero": false}, "axis": {"values": [-6,-5,-4,-3,-2,-1,0], "tickCount": 20, "labelOverlap": false, "title": "miR-550a-3p (dCq-values)", "offset": -49.5, "titleX": -40, "titleY": 93, "labelExpr": "'' + datum.value"}}}},
    {"data": {"values": [{}]}, "mark": {"type": "rule", "color": "#d9d9d9"}, "encoding": {"x": {"datum": 0, "type": "quantitative"}, "y": {"datum": -6, "type": "quantitative"}, "y2": {"datum": 0}}},
    {"data": {"values": [{}]}, "mark": {"type": "rule", "color": "#d9d9d9"}, "encoding": {"x": {"datum": 0, "type": "quantitative"}, "x2": {"datum": 0.3}, "y": {"datum": 0, "type": "quantitative"}}},
    {"data": {"name": "p15"}, "mark": {"type": "circle", "size": 42, "color": "#404040", "opacity": 1}, "encoding": {"x": {"field": "x", "type": "quantitative"}, "y": {"field": "y", "type": "quantitative"}}},
    {"data": {"values": [{"t": "rho = 0.02 (p=0.897)"}]}, "mark": {"type": "text", "align": "right", "baseline": "middle", "fontSize": 10.5, "color": "#000000"}, "encoding": {"x": {"datum": 0.2976, "type": "quantitative"}, "y": {"datum": -1.228, "type": "quantitative"}, "text": {"field": "t"}}}
  ]}
 ]}
]
}
